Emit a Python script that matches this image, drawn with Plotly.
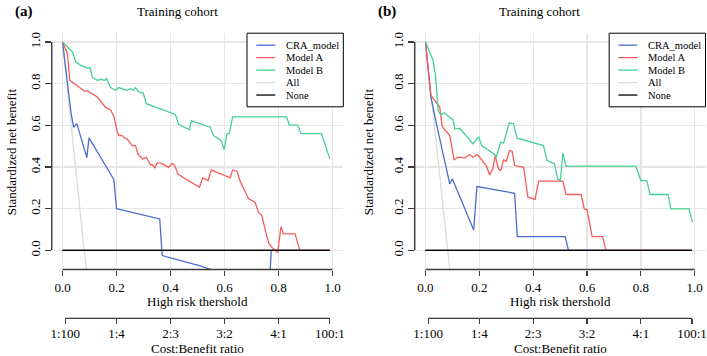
import plotly.graph_objects as go

# ---------------- data ----------------
series_names = ["CRA_model", "Model A", "Model B", "All", "None"]
series_colors = ["#4A6ED0", "#F65B5B", "#45D194", "#DCDCDC", "#000000"]

x_ticks = [0.0, 0.2, 0.4, 0.6, 0.8, 1.0]
x_tick_labels = ["0.0", "0.2", "0.4", "0.6", "0.8", "1.0"]
y_ticks = [0.0, 0.2, 0.4, 0.6, 0.8, 1.0]
y_tick_labels = ["0.0", "0.2", "0.4", "0.6", "0.8", "1.0"]
cb_ticks = [0.0099, 0.2, 0.4, 0.6, 0.8, 0.99]
cb_tick_labels = ["1:100", "1:4", "2:3", "3:2", "4:1", "100:1"]

# Panel (a)
a_cra_x = [0.0, 0.018, 0.031, 0.041, 0.053, 0.090, 0.098, 0.190, 0.200, 0.360, 0.369, 0.510, 0.560, 0.765, 0.773, 0.99]
a_cra_y = [1.0, 0.808, 0.663, 0.590, 0.608, 0.445, 0.540, 0.340, 0.200, 0.151, -0.025, -0.074, -0.098, -0.190, 0.0, 0.0]

a_ma_x = [0.0, 0.018, 0.027, 0.041, 0.068, 0.080, 0.092, 0.129, 0.160, 0.178, 0.191, 0.203, 0.209, 0.221,
          0.230, 0.239, 0.258, 0.270, 0.280, 0.297, 0.310, 0.326, 0.332, 0.342, 0.350, 0.362, 0.393, 0.406,
          0.415, 0.428, 0.507, 0.519, 0.539, 0.551, 0.621, 0.630, 0.646, 0.658, 0.689, 0.713, 0.726, 0.738,
          0.756, 0.765, 0.777, 0.797, 0.809, 0.818, 0.861, 0.879, 0.99]
a_ma_y = [1.0, 0.944, 0.816, 0.803, 0.776, 0.765, 0.765, 0.736, 0.685, 0.675, 0.640, 0.567, 0.551, 0.551,
          0.538, 0.535, 0.503, 0.503, 0.460, 0.437, 0.447, 0.410, 0.412, 0.396, 0.420, 0.420, 0.398, 0.418,
          0.407, 0.365, 0.303, 0.348, 0.335, 0.386, 0.348, 0.386, 0.380, 0.332, 0.247, 0.231, 0.183, 0.167,
          0.071, 0.031, 0.012, -0.010, 0.114, 0.079, 0.079, 0.0, 0.0]

a_mb_x = [0.0, 0.037, 0.049, 0.068, 0.092, 0.102, 0.111, 0.129, 0.141, 0.156, 0.163, 0.178, 0.197, 0.209,
          0.237, 0.252, 0.262, 0.270, 0.283, 0.299, 0.310, 0.418, 0.430, 0.470, 0.477, 0.547, 0.559, 0.587,
          0.599, 0.609, 0.618, 0.630, 0.830, 0.840, 0.871, 0.883, 0.959, 0.990]
a_mb_y = [1.0, 0.952, 0.904, 0.888, 0.875, 0.875, 0.829, 0.816, 0.821, 0.816, 0.824, 0.781, 0.768, 0.781,
          0.768, 0.776, 0.768, 0.781, 0.760, 0.755, 0.704, 0.652, 0.604, 0.580, 0.623, 0.591, 0.551, 0.527,
          0.484, 0.560, 0.560, 0.641, 0.641, 0.601, 0.601, 0.560, 0.560, 0.439]

a_all_x = [0.0, 0.080, 0.100]
a_all_y = [1.0, 0.0, -0.21]
a_none_x = [0.0, 0.99]
a_none_y = [0.0, 0.0]

# Panel (b)
b_cra_x = [0.0, 0.020, 0.041, 0.057, 0.085, 0.090, 0.100, 0.179, 0.191, 0.331, 0.341, 0.519, 0.531, 0.99]
b_cra_y = [1.0, 0.736, 0.605, 0.510, 0.350, 0.319, 0.343, 0.098, 0.306, 0.274, 0.066, 0.066, 0.0, 0.0]

b_ma_x = [0.0, 0.020, 0.034, 0.053, 0.062, 0.078, 0.090, 0.106, 0.121, 0.146, 0.164, 0.176, 0.193, 0.226,
          0.238, 0.250, 0.259, 0.271, 0.279, 0.290, 0.300, 0.312, 0.322, 0.331, 0.365, 0.380, 0.407, 0.420,
          0.510, 0.522, 0.578, 0.590, 0.600, 0.619, 0.658, 0.670, 0.99]
b_ma_y = [1.0, 0.744, 0.720, 0.688, 0.595, 0.567, 0.551, 0.435, 0.447, 0.444, 0.460, 0.447, 0.460, 0.407,
          0.362, 0.391, 0.455, 0.391, 0.383, 0.435, 0.427, 0.479, 0.476, 0.407, 0.398, 0.255, 0.245, 0.332,
          0.332, 0.268, 0.268, 0.199, 0.196, 0.066, 0.066, 0.0, 0.0]

b_mb_x = [0.0, 0.012, 0.028, 0.037, 0.047, 0.057, 0.069, 0.084, 0.102, 0.109, 0.127, 0.176, 0.197, 0.209,
          0.257, 0.263, 0.279, 0.290, 0.311, 0.327, 0.340, 0.438, 0.452, 0.479, 0.491, 0.501, 0.510, 0.522,
          0.781, 0.800, 0.822, 0.834, 0.901, 0.911, 0.979, 0.991]
b_mb_y = [1.0, 0.960, 0.912, 0.840, 0.670, 0.650, 0.660, 0.645, 0.627, 0.582, 0.586, 0.512, 0.545, 0.503,
          0.460, 0.447, 0.519, 0.514, 0.611, 0.608, 0.538, 0.503, 0.431, 0.415, 0.343, 0.335, 0.466, 0.404,
          0.404, 0.335, 0.335, 0.268, 0.268, 0.199, 0.199, 0.135]

b_all_x = [0.0, 0.081, 0.100]
b_all_y = [1.0, 0.0, -0.21]
b_none_x = [0.0, 0.99]
b_none_y = [0.0, 0.0]

panel_titles = ["Training cohort", "Training cohort"]
panel_tags = ["(a)", "(b)"]
x_title = "High risk thershold"
cb_title = "Cost:Benefit ratio"
y_title = "Standardized net benefit"

# ---------------- layout geometry (pixels) ----------------
W, H = 707, 356
FONT = "Liberation Serif"
X_RANGE = [-0.04, 1.04]
Y_RANGE = [-0.092, 1.042]
TOP, BOTTOM, CB_Y = 32.3, 269.3, 318.3
panels = [
    dict(left=50.9, right=343.3, title_x=176.7, tag_x=11.7, ylab_x=10.0),
    dict(left=414.9, right=706.5, title_x=540.0, tag_x=375.7, ylab_x=368.0),
]


def px(v):
    return v / W


def py(v):
    return 1 - v / H


fig = go.Figure()

panel_data = [
    [(a_all_x, a_all_y), (a_none_x, a_none_y), (a_cra_x, a_cra_y), (a_ma_x, a_ma_y), (a_mb_x, a_mb_y)],
    [(b_all_x, b_all_y), (b_none_x, b_none_y), (b_cra_x, b_cra_y), (b_ma_x, b_ma_y), (b_mb_x, b_mb_y)],
]
draw_order = [3, 4, 0, 1, 2]  # All, None, CRA, A, B

shapes = []
annotations = []
GRID = "#E6E6E6"
AX = "#3A3A3A"
TICKFONT = dict(family=FONT, size=13, color="#000")

for i, p in enumerate(panels):
    xa = "x" if i == 0 else "x2"
    ya = "y" if i == 0 else "y2"
    cbx = "x3" if i == 0 else "x4"
    for k, (xs, ys) in zip(draw_order, panel_data[i]):
        fig.add_trace(go.Scatter(
            x=xs, y=ys, mode="lines", name=series_names[k],
            line=dict(color=series_colors[k], width=1.3),
            xaxis=xa, yaxis=ya, showlegend=False, hoverinfo="skip",
        ))
    # cost:benefit axis carries the None reference line too, so the axis is drawn
    fig.add_trace(go.Scatter(
        x=[a_none_x, b_none_x][i], y=[a_none_y, b_none_y][i], mode="lines",
        line=dict(color=series_colors[4], width=1.3), xaxis=cbx, yaxis=ya,
        showlegend=False, hoverinfo="skip",
    ))
    dom = [px(p["left"]), px(p["right"])]
    sfx = "" if i == 0 else "2"
    fig.update_layout(**{
        "xaxis" + sfx: dict(
            domain=dom, anchor=ya, range=X_RANGE, tickvals=x_ticks, ticktext=x_tick_labels,
            ticks="outside", ticklen=5, tickwidth=1.2, tickcolor=AX, showline=False,
            showgrid=True, gridcolor=GRID, gridwidth=1.3, zeroline=False,
            tickfont=TICKFONT, ticklabelstandoff=1,
        ),
        "yaxis" + sfx: dict(
            domain=[py(BOTTOM), py(TOP)], anchor=xa, range=Y_RANGE, tickvals=y_ticks,
            ticktext=y_tick_labels, ticks="outside", ticklen=6, tickwidth=1.2, tickcolor=AX,
            showline=False, showgrid=True, gridcolor=GRID, gridwidth=1.3, zeroline=False,
            tickangle=-90, tickfont=TICKFONT, ticklabelstandoff=0,
        ),
        "xaxis" + cbx[1:]: dict(
            domain=dom, overlaying=xa, anchor="free", position=py(CB_Y), side="bottom",
            range=X_RANGE, tickvals=cb_ticks, ticktext=cb_tick_labels, ticks="outside",
            ticklen=5, tickwidth=1.2, tickcolor=AX, showline=False, showgrid=False,
            zeroline=False, tickfont=TICKFONT, ticklabelstandoff=-2,
        ),
    })
    # axis lines (R style: span from first to last tick)
    shapes.append(dict(type="line", xref=xa, yref="paper", x0=x_ticks[0], x1=x_ticks[-1],
                       y0=py(BOTTOM), y1=py(BOTTOM), line=dict(color=AX, width=1.4)))
    shapes.append(dict(type="line", xref=xa, yref="paper", x0=cb_ticks[0], x1=cb_ticks[-1],
                       y0=py(CB_Y), y1=py(CB_Y), line=dict(color=AX, width=1.4)))
    shapes.append(dict(type="line", xref="paper", yref=ya, x0=dom[0], x1=dom[0],
                       y0=y_ticks[0], y1=y_ticks[-1], line=dict(color=AX, width=1.4)))
    # legend box
    bx0, bx1 = p["right"] - 96.6, p["right"]
    by0, by1 = TOP, TOP + 73.8
    shapes.append(dict(type="rect", xref="paper", yref="paper", x0=px(bx0), x1=px(bx1),
                       y0=py(by1), y1=py(by0), line=dict(color="#000", width=1), fillcolor="white"))
    for j, (nm, col) in enumerate(zip(series_names, series_colors)):
        ry = by0 + 12.0 + j * 12.5
        shapes.append(dict(type="line", xref="paper", yref="paper", x0=px(bx0 + 9.3), x1=px(bx0 + 28.3),
                           y0=py(ry), y1=py(ry), line=dict(color=col, width=1.3)))
        annotations.append(dict(text=nm, xref="paper", yref="paper", x=px(bx0 + 37.4), y=py(ry),
                                xanchor="left", yanchor="middle", showarrow=False,
                                font=dict(family=FONT, size=10.5, color="#000")))
    # titles
    annotations.append(dict(text=panel_titles[i], xref="paper", yref="paper", x=px(p["title_x"]), y=py(11),
                            xanchor="center", yanchor="middle", showarrow=False,
                            font=dict(family=FONT, size=13, color="#000")))
    annotations.append(dict(text="<b>" + panel_tags[i] + "</b>", xref="paper", yref="paper", x=px(p["tag_x"]),
                            y=py(11), xanchor="left", yanchor="middle", showarrow=False,
                            font=dict(family=FONT, size=15, color="#000")))
    annotations.append(dict(text=x_title, xref=xa, yref="paper", x=0.5, y=py(301.7),
                            xanchor="center", yanchor="middle", showarrow=False,
                            font=dict(family=FONT, size=13, color="#000")))
    annotations.append(dict(text=cb_title, xref=xa, yref="paper", x=0.5, y=py(348.5),
                            xanchor="center", yanchor="middle", showarrow=False,
                            font=dict(family=FONT, size=13, color="#000")))
    annotations.append(dict(text=y_title, xref="paper", yref="paper", x=px(p["ylab_x"]),
                            y=py((TOP + BOTTOM) / 2), xanchor="center", yanchor="middle", textangle=-90,
                            showarrow=False, font=dict(family=FONT, size=13, color="#000")))

fig.update_layout(
    width=W, height=H, margin=dict(l=0, r=0, t=0, b=0),
    paper_bgcolor="white", plot_bgcolor="white", showlegend=False,
    shapes=shapes, annotations=annotations,
    font=dict(family=FONT, size=13, color="#000"),
)

fig.write_html("out.html", config={"displayModeBar": False, "staticPlot": True},
               post_script="document.body.style.margin='0';document.body.style.padding='0';")
